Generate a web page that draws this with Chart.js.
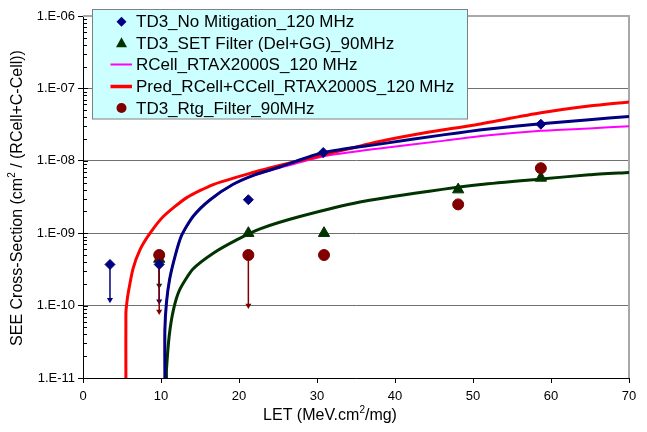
<!DOCTYPE html>
<html>
<head>
<meta charset="utf-8">
<script src="https://cdn.jsdelivr.net/npm/chart.js@4.4.1/dist/chart.umd.min.js"></script>
<style>
  html, body { margin: 0; padding: 0; background: #fff; }
  #wrap { position: relative; width: 647px; height: 432px; }
</style>
</head>
<body>
<div id="wrap"><canvas id="chart_see"></canvas></div>
<script>
// measured points (LET in MeV.cm2/mg, cross-section in cm2)
const LET_NOMIT = [3.46, 9.77, 21.2, 30.8, 58.7];
const SEE_NOMIT = [3.7e-10, 3.7e-10, 2.9e-9, 1.3e-8, 3.2e-8];
const LET_SET = [9.77, 21.2, 30.9, 48.1, 58.7];
const SEE_SET = [4.4e-10, 1.0e-9, 1.0e-9, 4.0e-9, 5.8e-9];
const LET_RTG = [9.77, 21.2, 30.9, 48.1, 58.7];
const SEE_RTG = [5.0e-10, 5.0e-10, 5.0e-10, 2.5e-9, 7.9e-9];

// upper limits: [LET, from, to]
const LIMITS_NOMIT = [[3.46, 3.7e-10, 1.2e-10], [9.77, 3.7e-10, 1.15e-10]];
const LIMITS_SET = [[9.77, 4.4e-10, 1.9e-10]];
const LIMITS_RTG = [[9.77, 5.0e-10, 8.3e-11], [21.2, 5.0e-10, 1.0e-10]];

// fitted curves
const FIT_TD3_LET = [10.5, 10.5, 10.7, 11.1, 11.8, 12.6, 14.1, 16.3, 19.2, 22.0, 25.2, 30.8, 38, 46.4, 52, 58.7, 64.9, 70];
const FIT_TD3_SEE = [1e-11, 4.7e-11, 1.1e-10, 2.3e-10, 4.8e-10, 9.1e-10, 1.7e-9, 2.9e-9, 4.7e-9, 6.4e-9, 8.2e-9, 1.3e-8, 1.7e-8, 2.3e-8, 2.75e-8, 3.25e-8, 3.7e-8, 4.1e-8];
const RCELL_LET = [10.5, 10.5, 10.7, 11.1, 11.8, 12.6, 14.1, 16.3, 19.2, 22.0, 25.2, 30.8, 38, 46.4, 52, 58.7, 64.9, 70];
const RCELL_SEE = [1e-11, 4.7e-11, 1.1e-10, 2.3e-10, 4.8e-10, 9.1e-10, 1.7e-9, 2.9e-9, 4.7e-9, 6.3e-9, 8.0e-9, 1.15e-8, 1.48e-8, 1.9e-8, 2.25e-8, 2.6e-8, 2.8e-8, 3.0e-8];
const PRED_LET = [5.5, 5.5, 5.6, 5.8, 6.4, 7.3, 8.6, 10.3, 13.3, 16.7, 21.8, 25.2, 30.8, 38, 44.4, 50, 58.7, 64.9, 70];
const PRED_SEE = [1e-11, 7.9e-11, 1.05e-10, 1.5e-10, 3.2e-10, 5.9e-10, 1.0e-9, 1.7e-9, 3.1e-9, 4.7e-9, 6.9e-9, 8.6e-9, 1.2e-8, 1.85e-8, 2.5e-8, 3.1e-8, 4.6e-8, 5.7e-8, 6.5e-8];
const FIT_SET_LET = [10.7, 10.7, 11.05, 11.6, 12.4, 14.1, 16.7, 19.7, 22.7, 27.8, 35.5, 44.4, 51, 58.7, 64.9, 70];
const FIT_SET_SEE = [1e-11, 1.3e-11, 3.8e-11, 8.8e-11, 1.66e-10, 3.2e-10, 5.3e-10, 8.1e-10, 1.15e-9, 1.7e-9, 2.7e-9, 3.8e-9, 4.7e-9, 5.6e-9, 6.4e-9, 6.9e-9];

const X_TICKS = [0, 10, 20, 30, 40, 50, 60, 70];
const Y_TICKS = [1e-11, 1e-10, 1e-9, 1e-8, 1e-7, 1e-6];
const Y_TICK_LABELS = ['1.E-11', '1.E-10', '1.E-09', '1.E-08', '1.E-07', '1.E-06'];

const LEGEND_LABELS = [
  'TD3_No Mitigation_120 MHz',
  'TD3_SET Filter (Del+GG)_90MHz',
  'RCell_RTAX2000S_120 MHz',
  'Pred_RCell+CCell_RTAX2000S_120 MHz',
  'TD3_Rtg_Filter_90MHz'
];

const NAVY = '#000080';
const DKGREEN = '#003300';
const MAGENTA = '#ff00ff';
const RED = '#ff0000';
const BROWN = '#800000';
const FONT = "'Liberation Sans', Arial, sans-serif";

const toXY = (xs, ys) => xs.map((x, i) => ({ x, y: ys[i] }));

const pointSet = (label, xs, ys, color, style, radius) => ({
  label,
  data: toXY(xs, ys),
  showLine: false,
  pointStyle: style,
  pointRadius: radius,
  pointHoverRadius: radius,
  backgroundColor: color,
  borderColor: color,
  borderWidth: 1
});

const curveSet = (label, xs, ys, color, width) => ({
  label,
  data: toXY(xs, ys),
  showLine: true,
  borderColor: color,
  borderWidth: width,
  backgroundColor: color,
  pointRadius: 0,
  tension: 0.22,
  fill: false
});

// one small dataset per limit: a stem with a down-pointing head
const arrowSets = (limits, color) => limits.map(([x, from, to]) => ({
  label: 'limit',
  data: [{ x, y: from }, { x, y: to }],
  showLine: true,
  borderColor: color,
  borderWidth: 1.5,
  backgroundColor: color,
  pointStyle: 'triangle',
  pointRotation: 180,
  pointRadius: [0, 3.5],
  pointBorderWidth: 0,
  tension: 0
}));

const drawSupText = (ctx, parts, cx, cy, size) => {
  const supSize = Math.round(size * 0.65);
  let total = 0;
  parts.forEach(p => {
    ctx.font = `${p.sup ? supSize : size}px ${FONT}`;
    total += ctx.measureText(p.t).width;
  });
  let x = cx - total / 2;
  ctx.textBaseline = 'middle';
  ctx.textAlign = 'left';
  parts.forEach(p => {
    ctx.font = `${p.sup ? supSize : size}px ${FONT}`;
    ctx.fillText(p.t, x, p.sup ? cy - size * 0.35 : cy);
    x += ctx.measureText(p.t).width;
  });
};

const framePlugin = {
  id: 'frame',
  beforeDatasetsDraw(chart) {
    const { ctx, chartArea: a, scales } = chart;
    ctx.save();
    // grey top / right frame
    ctx.strokeStyle = '#a8a8a8';
    ctx.lineWidth = 2;
    ctx.beginPath();
    ctx.moveTo(a.left, a.top);
    ctx.lineTo(a.right, a.top);
    ctx.lineTo(a.right, a.bottom);
    ctx.stroke();
    // minor log ticks on the inside of the y axis
    ctx.strokeStyle = '#000';
    ctx.lineWidth = 1;
    ctx.beginPath();
    for (let e = -11; e < -6; e++) {
      for (let k = 1; k <= 9; k++) {
        const py = Math.round(scales.y.getPixelForValue(k * Math.pow(10, e))) + 0.5;
        ctx.moveTo(a.left, py);
        ctx.lineTo(a.left + (k === 1 ? 5 : 4), py);
      }
    }
    ctx.stroke();
    ctx.restore();
  },
  afterDraw(chart) {
    const { ctx } = chart;
    ctx.save();
    ctx.fillStyle = '#000';
    drawSupText(ctx, [{ t: 'LET (MeV.cm' }, { t: '2', sup: true }, { t: '/mg)' }], 330, 416, 16);
    ctx.translate(18, 198);
    ctx.rotate(-Math.PI / 2);
    drawSupText(ctx, [{ t: 'SEE Cross-Section (cm' }, { t: '2', sup: true }, { t: ' / (RCell+C-Cell))' }], 0, 0, 16);
    ctx.restore();
  }
};

const legendPlugin = {
  id: 'boxLegend',
  afterDatasetsDraw(chart) {
    const { ctx } = chart;
    const box = { x: 92.5, y: 9.5, w: 375, h: 109.5 };
    const rows = [21.7, 43.3, 64.5, 86.5, 108];
    const mx = 121.5;
    ctx.save();
    ctx.fillStyle = '#ccffff';
    ctx.fillRect(box.x, box.y, box.w, box.h);
    ctx.strokeStyle = '#808080';
    ctx.lineWidth = 1;
    ctx.strokeRect(box.x, box.y, box.w, box.h);

    // diamond
    ctx.fillStyle = NAVY;
    ctx.beginPath();
    ctx.moveTo(mx, rows[0] - 5);
    ctx.lineTo(mx + 5, rows[0]);
    ctx.lineTo(mx, rows[0] + 5);
    ctx.lineTo(mx - 5, rows[0]);
    ctx.closePath();
    ctx.fill();
    // triangle
    ctx.fillStyle = DKGREEN;
    ctx.beginPath();
    ctx.moveTo(mx, rows[1] - 6);
    ctx.lineTo(mx + 5.5, rows[1] + 4);
    ctx.lineTo(mx - 5.5, rows[1] + 4);
    ctx.closePath();
    ctx.fill();
    // lines
    ctx.lineWidth = 2;
    ctx.strokeStyle = MAGENTA;
    ctx.beginPath();
    ctx.moveTo(110.5, rows[2]);
    ctx.lineTo(132, rows[2]);
    ctx.stroke();
    ctx.lineWidth = 3.5;
    ctx.strokeStyle = RED;
    ctx.beginPath();
    ctx.moveTo(110.5, rows[3]);
    ctx.lineTo(132, rows[3]);
    ctx.stroke();
    // circle
    ctx.fillStyle = BROWN;
    ctx.beginPath();
    ctx.arc(mx, rows[4], 5, 0, Math.PI * 2);
    ctx.fill();

    ctx.fillStyle = '#000';
    ctx.font = `17px ${FONT}`;
    ctx.textAlign = 'left';
    ctx.textBaseline = 'middle';
    LEGEND_LABELS.forEach((t, i) => ctx.fillText(t, 136, rows[i] + 1));
    ctx.restore();
  }
};

document.addEventListener('DOMContentLoaded', () => {
  const canvas = document.getElementById('chart_see');
  canvas.width = 647;
  canvas.height = 432;

  const datasets = [
    pointSet(LEGEND_LABELS[0], LET_NOMIT, SEE_NOMIT, NAVY, 'rectRot', 5),
    pointSet(LEGEND_LABELS[4], LET_RTG, SEE_RTG, BROWN, 'circle', 5.5),
    pointSet(LEGEND_LABELS[1], LET_SET, SEE_SET, DKGREEN, 'triangle', 6.5),
    ...arrowSets(LIMITS_RTG, BROWN),
    ...arrowSets(LIMITS_NOMIT, NAVY),
    ...arrowSets(LIMITS_SET, DKGREEN),
    curveSet('TD3 fit', FIT_TD3_LET, FIT_TD3_SEE, NAVY, 3),
    curveSet(LEGEND_LABELS[3], PRED_LET, PRED_SEE, RED, 3),
    curveSet(LEGEND_LABELS[2], RCELL_LET, RCELL_SEE, MAGENTA, 2),
    curveSet('SET fit', FIT_SET_LET, FIT_SET_SEE, DKGREEN, 3)
  ];

  new Chart(canvas.getContext('2d'), {
    type: 'scatter',
    data: { datasets },
    options: {
      responsive: false,
      animation: false,
      devicePixelRatio: 1,
      layout: { padding: { top: 16, right: 18, left: 0, bottom: 0 } },
      plugins: {
        legend: { display: false },
        tooltip: { enabled: false }
      },
      scales: {
        x: {
          type: 'linear',
          min: 0,
          max: 70,
          afterFit: (s) => { s.height = 54; },
          afterBuildTicks: (s) => { s.ticks = X_TICKS.map(v => ({ value: v })); },
          ticks: {
            color: '#000',
            font: { family: FONT, size: 13 },
            padding: 6,
            maxRotation: 0,
            callback: (v) => String(v)
          },
          grid: { drawOnChartArea: false, drawTicks: true, tickLength: 5, color: '#000' },
          border: { color: '#000', width: 1 }
        },
        y: {
          type: 'logarithmic',
          min: 1e-11,
          max: 1e-6,
          afterFit: (s) => { s.width = 83; },
          afterBuildTicks: (s) => { s.ticks = Y_TICKS.map(v => ({ value: v })); },
          ticks: {
            color: '#000',
            font: { family: FONT, size: 13 },
            padding: 3,
            callback: (v) => {
              const i = Y_TICKS.findIndex(t => Math.abs(Math.log10(t) - Math.log10(v)) < 1e-6);
              return i >= 0 ? Y_TICK_LABELS[i] : '';
            }
          },
          grid: { color: '#707070', tickColor: '#000', tickLength: 5, lineWidth: 1 },
          border: { color: '#000', width: 1 }
        }
      }
    },
    plugins: [framePlugin, legendPlugin]
  });
});
</script>
</body>
</html>
